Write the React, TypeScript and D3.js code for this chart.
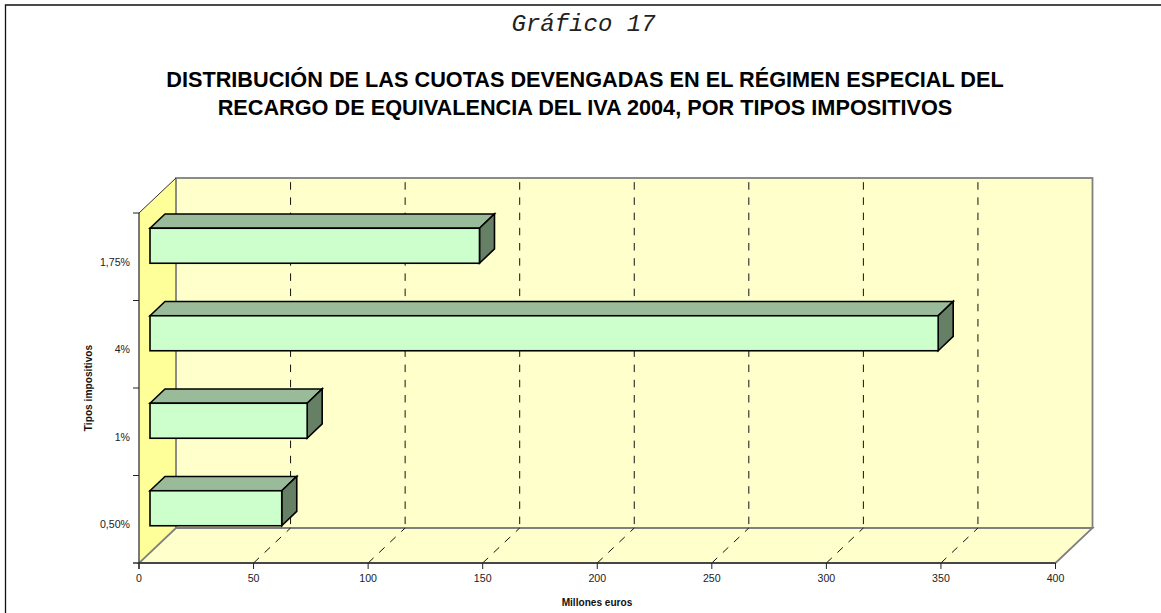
import React from "react";
import * as d3 from "d3";

const categories = ["0,50%", "1%", "4%", "1,75%"];
const values = [57.5, 68.6, 344, 143.8];
const xTicks = [0, 50, 100, 150, 200, 250, 300, 350, 400];
const subtitle = "Gráfico 17";
const titleLines = [
  "DISTRIBUCIÓN DE LAS CUOTAS DEVENGADAS EN EL RÉGIMEN ESPECIAL DEL",
  "RECARGO DE EQUIVALENCIA DEL IVA 2004, POR TIPOS IMPOSITIVOS",
];
const xTitle = "Millones euros";
const yTitle = "Tipos impositivos";

const W = 1161, H = 613;
const x = d3.scaleLinear().domain([0, 400]).range([139, 1055.5]);
const y = d3.scaleBand().domain(categories).range([563, 213]).paddingInner(0).paddingOuter(0);
const wallDx = 37, wallDy = -35;
const barOffX = 11, barOffY = -11;
const barDx = 15, barDy = -14.3;
const barH = 35;

const pts = (p: [number, number][]) => p.map((d) => d.join(",")).join(" ");
const sans = "'Liberation Sans', Arial, sans-serif";

export default function App() {
  const x0 = x(0), x1 = x(400), yB = 563, yT = 213;
  return (
    <svg width={W} height={H} viewBox={`0 0 ${W} ${H}`} style={{ position: "absolute", left: 0, top: 0, background: "#fff" }}>
      <path d={`M5.5 ${H}V5H${W}`} fill="none" stroke="#111" strokeWidth={1.3} />
      <text x={583.5} y={30.7} textAnchor="middle" fontFamily="'Liberation Mono', monospace" fontStyle="italic" fontSize={24} fill="#222">{subtitle}</text>
      {titleLines.map((t, i) => (
        <text key={t} x={585} y={87.3 + i * 27.8} textAnchor="middle" fontFamily={sans} fontWeight="bold" fontSize={21.7} fill="#000">{t}</text>
      ))}

      {/* left wall */}
      <polygon points={pts([[x0, yB], [x0, yT], [x0 + wallDx, yT + wallDy], [x0 + wallDx, yB + wallDy]])} fill="#ffff99" />
      {/* back wall */}
      <rect x={x0 + wallDx} y={yT + wallDy} width={x1 - x0} height={yB - yT} fill="#ffffcc" stroke="#808080" strokeWidth={1.8} />
      {/* floor */}
      <polygon points={pts([[x0, yB], [x1, yB], [x1 + wallDx, yB + wallDy], [x0 + wallDx, yB + wallDy]])} fill="#ffffcc" stroke="#808080" strokeWidth={1.8} />
      <line x1={x0} y1={yT} x2={x0 + wallDx} y2={yT + wallDy} stroke="#333" strokeWidth={1} />

      {/* gridlines */}
      {xTicks.slice(1, -1).map((t) => (
        <g key={t} fill="none" stroke="#111" strokeWidth={1} strokeDasharray="7.5 7.7">
          <line x1={x(t) + wallDx} y1={yT + wallDy} x2={x(t) + wallDx} y2={yB + wallDy} strokeDashoffset={11} />
          <line x1={x(t)} y1={yB} x2={x(t) + wallDx} y2={yB + wallDy} />
        </g>
      ))}

      {/* axes */}
      <line x1={x0} y1={yT} x2={x0} y2={yB + 6} stroke="#222" strokeWidth={1.2} />
      <line x1={x0 - 6} y1={yB} x2={x1} y2={yB} stroke="#333" strokeWidth={1.6} />
      {xTicks.map((t) => (
        <g key={t}>
          <line x1={x(t)} y1={yB} x2={x(t)} y2={yB + 6} stroke="#222" strokeWidth={1} />
          <text x={x(t)} y={581.5} textAnchor="middle" fontFamily={sans} fontSize={10.6} fill="#222">{t}</text>
        </g>
      ))}
      {categories.map((c) => (
        <line key={c} x1={x0 - 6} x2={x0} y1={y(c)!} y2={y(c)!} stroke="#222" strokeWidth={1} />
      ))}
      {categories.map((c) => (
        <text key={c} x={130} y={y(c)! + y.bandwidth() / 2 + 9} textAnchor="end" fontFamily={sans} fontSize={10.6} fill="#222">{c}</text>
      ))}
      <text x={597} y={605.5} textAnchor="middle" fontFamily={sans} fontWeight="bold" fontSize={10.1} fill="#111">{xTitle}</text>
      <text transform="translate(91.5,388) rotate(-90)" textAnchor="middle" fontFamily={sans} fontWeight="bold" fontSize={10.2} fill="#111">{yTitle}</text>

      {/* bars */}
      {categories.map((c, i) => {
        const l = x(0) + barOffX, r = x(values[i]) + barOffX;
        const cy = y(c)! + y.bandwidth() / 2 + barOffY;
        const t = cy - barH / 2, b = cy + barH / 2;
        return (
          <g key={c} stroke="#000" strokeWidth={1.6} strokeLinejoin="miter">
            <polygon points={pts([[l, t], [l + barDx, t + barDy], [r + barDx, t + barDy], [r, t]])} fill="#99bb99" />
            <polygon points={pts([[r, t], [r + barDx, t + barDy], [r + barDx, b + barDy], [r, b]])} fill="#668066" />
            <rect x={l} y={t} width={r - l} height={barH} fill="#ccffcc" />
          </g>
        );
      })}
    </svg>
  );
}
